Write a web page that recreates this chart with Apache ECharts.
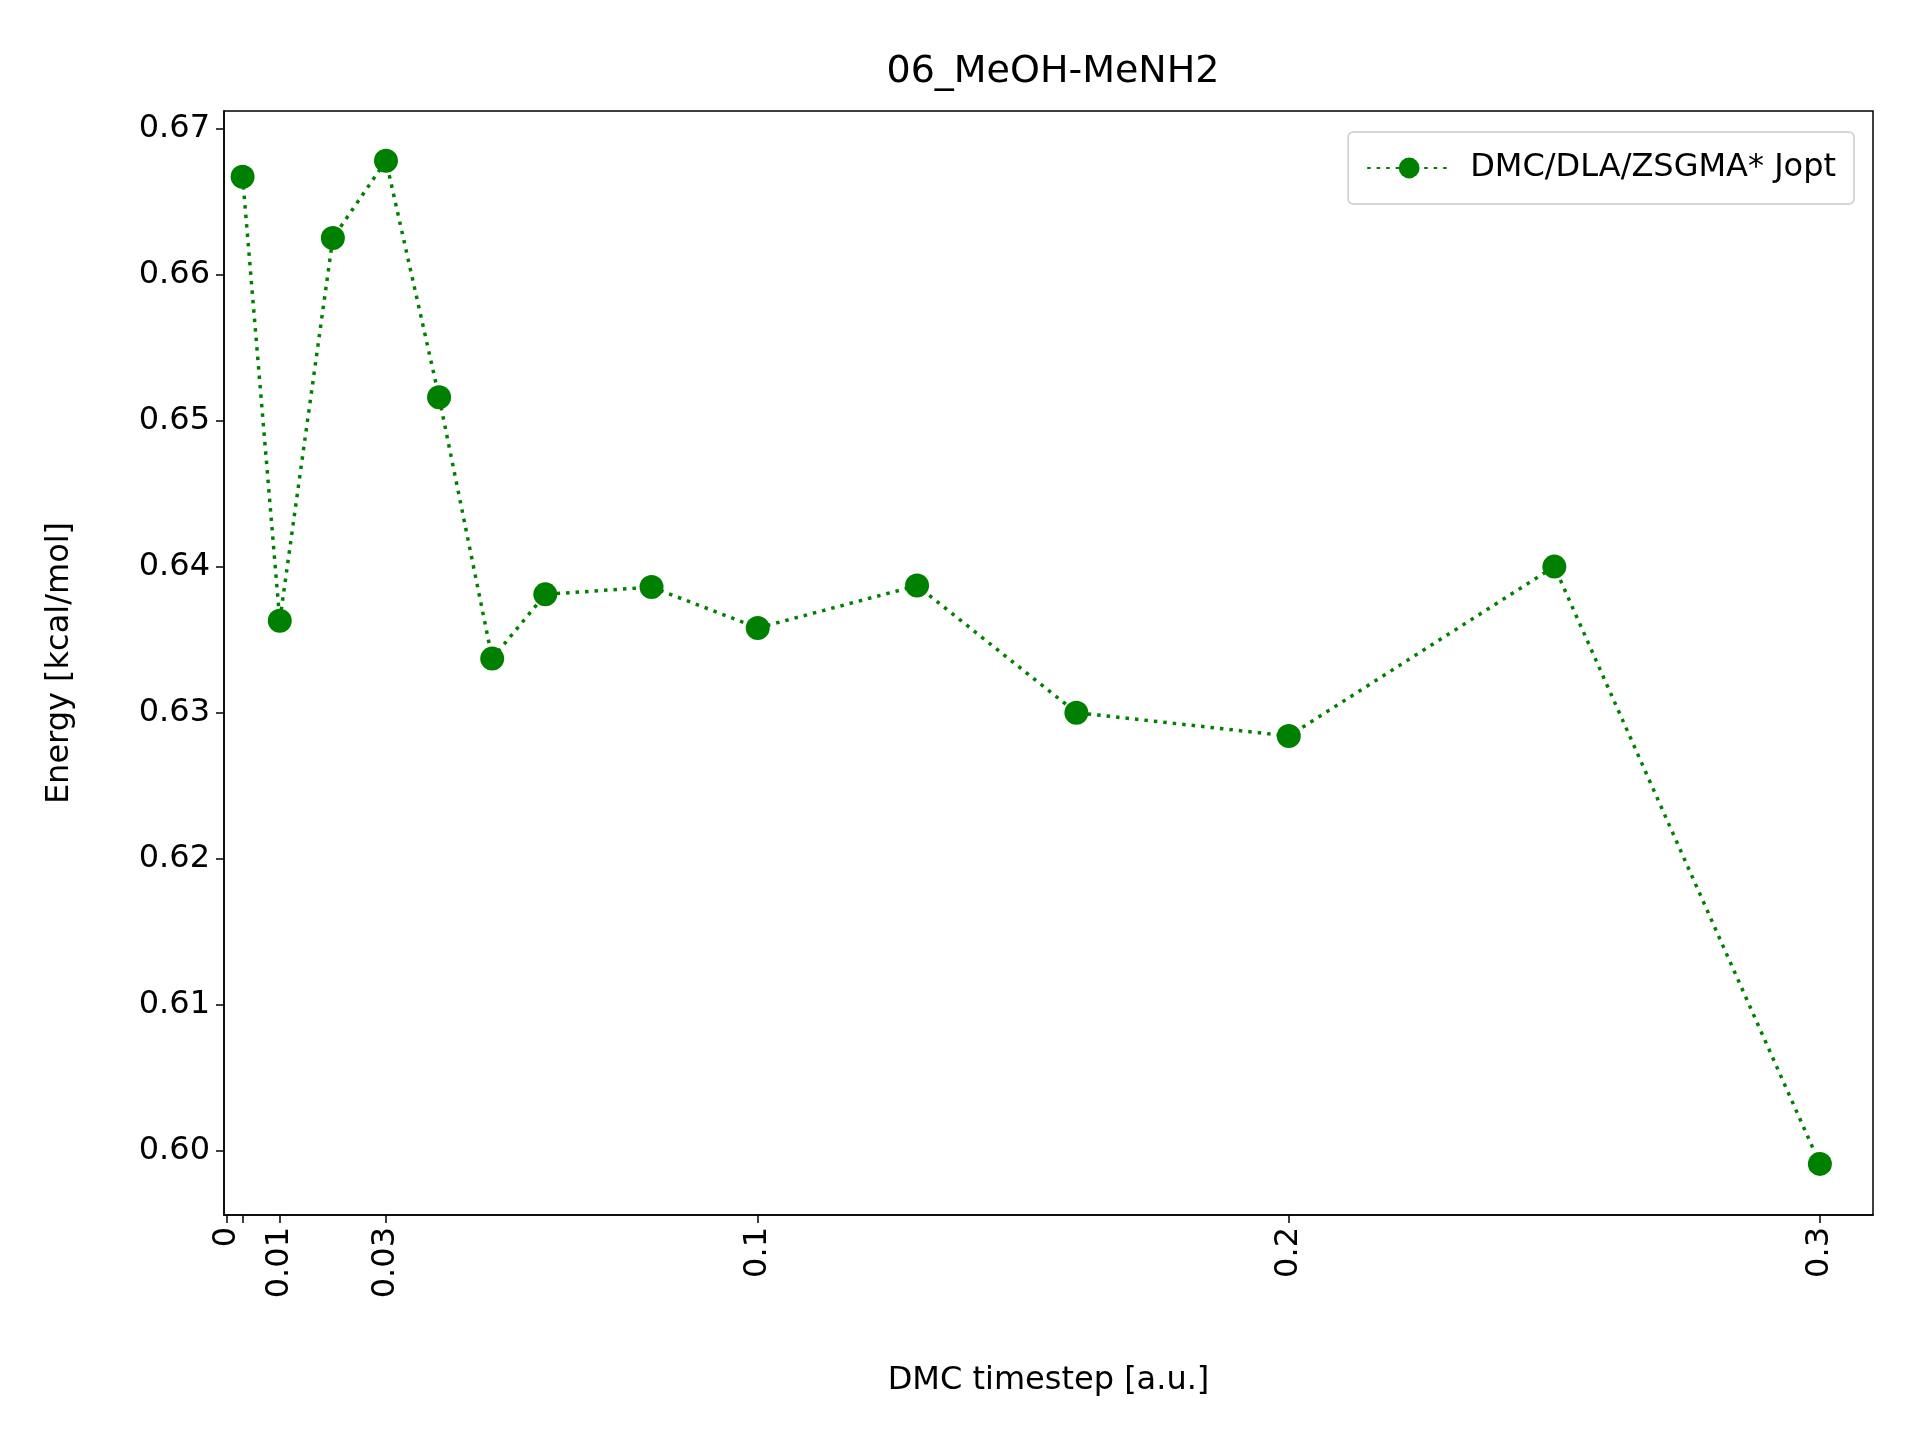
<!DOCTYPE html>
<html>
<head>
<meta charset="utf-8">
<script src="https://cdn.jsdelivr.net/npm/echarts@6/dist/echarts.min.js"></script>
<style>html,body{margin:0;padding:0;background:#fff}#chart{width:1920px;height:1440px}</style>
</head>
<body>
<div id="chart"></div>
<script>
// timestep values and energies
var timesteps = [0.003, 0.01, 0.02, 0.03, 0.04, 0.05, 0.06, 0.08, 0.1, 0.13, 0.16, 0.2, 0.25, 0.3]
var energies = [0.6667, 0.6363, 0.6625, 0.6678, 0.6516, 0.6337, 0.6381, 0.6386, 0.6358, 0.6387, 0.6300, 0.6284, 0.6400, 0.5991]
var xTicks = [0, 0.003, 0.01, 0.03, 0.1, 0.2, 0.3]
var xLabels = [0, 0.01, 0.03, 0.1, 0.2, 0.3]
var yTicks = [0.60, 0.61, 0.62, 0.63, 0.64, 0.65, 0.66, 0.67]

var font = 'DejaVu Sans'
var points = []
for (var i = 0; i < timesteps.length; i++) {
    points.push([timesteps[i], energies[i]])
}

var myChart = echarts.init(document.getElementById('chart'));
myChart.setOption({
    animation: false,
    backgroundColor: '#fff',
    title: {
        text: '06_MeOH-MeNH2',
        left: 1048, top: 48, textAlign: 'center',
        textStyle: { fontFamily: font, fontSize: 38, fontWeight: 'normal', color: '#000' }
    },
    legend: {
        right: 66, top: 132,
        padding: [20, 18, 20, 18],
        borderColor: '#ccc', borderWidth: 1.5, borderRadius: 5,
        itemWidth: 84, itemHeight: 26, itemGap: 10,
        textStyle: { fontFamily: font, fontSize: 32, color: '#000', padding: [0, 0, 0, 14] },
        data: ['DMC/DLA/ZSGMA* Jopt']
    },
    grid: {
        left: 224, right: 47, top: 111, bottom: 225,
        show: true, borderColor: '#000', borderWidth: 1.5
    },
    xAxis: {
        type: 'value',
        min: -0.0005, max: 0.31,
        name: 'DMC timestep [a.u.]',
        nameLocation: 'middle', nameGap: 150,
        nameTextStyle: { fontFamily: font, fontSize: 32, color: '#000' },
        axisLine: { onZero: false, lineStyle: { color: '#000', width: 1.5 } },
        axisTick: { customValues: xTicks, length: 8, lineStyle: { color: '#000', width: 1.5 } },
        axisLabel: {
            customValues: xLabels, rotate: 90, margin: 12,
            fontFamily: font, fontSize: 32, color: '#000',
            formatter: function (v) { return String(v) }
        },
        splitLine: { show: false }
    },
    yAxis: {
        type: 'value',
        min: 0.5956, max: 0.6712,
        name: 'Energy [kcal/mol]',
        nameLocation: 'middle', nameGap: 148,
        nameTextStyle: { fontFamily: font, fontSize: 32, color: '#000' },
        axisLine: { show: true, onZero: false, lineStyle: { color: '#000', width: 1.5 } },
        axisTick: { show: true, customValues: yTicks, length: 8, lineStyle: { color: '#000', width: 1.5 } },
        axisLabel: {
            customValues: yTicks, margin: 14,
            fontFamily: font, fontSize: 32, color: '#000',
            formatter: function (v) { return v.toFixed(2) }
        },
        splitLine: { show: false }
    },
    series: [{
        name: 'DMC/DLA/ZSGMA* Jopt',
        type: 'line',
        data: points,
        symbol: 'circle',
        symbolSize: 24,
        itemStyle: { color: '#008000' },
        lineStyle: { color: '#008000', width: 3.5, type: [3.5, 6] }
    }]
});
</script>
</body>
</html>
